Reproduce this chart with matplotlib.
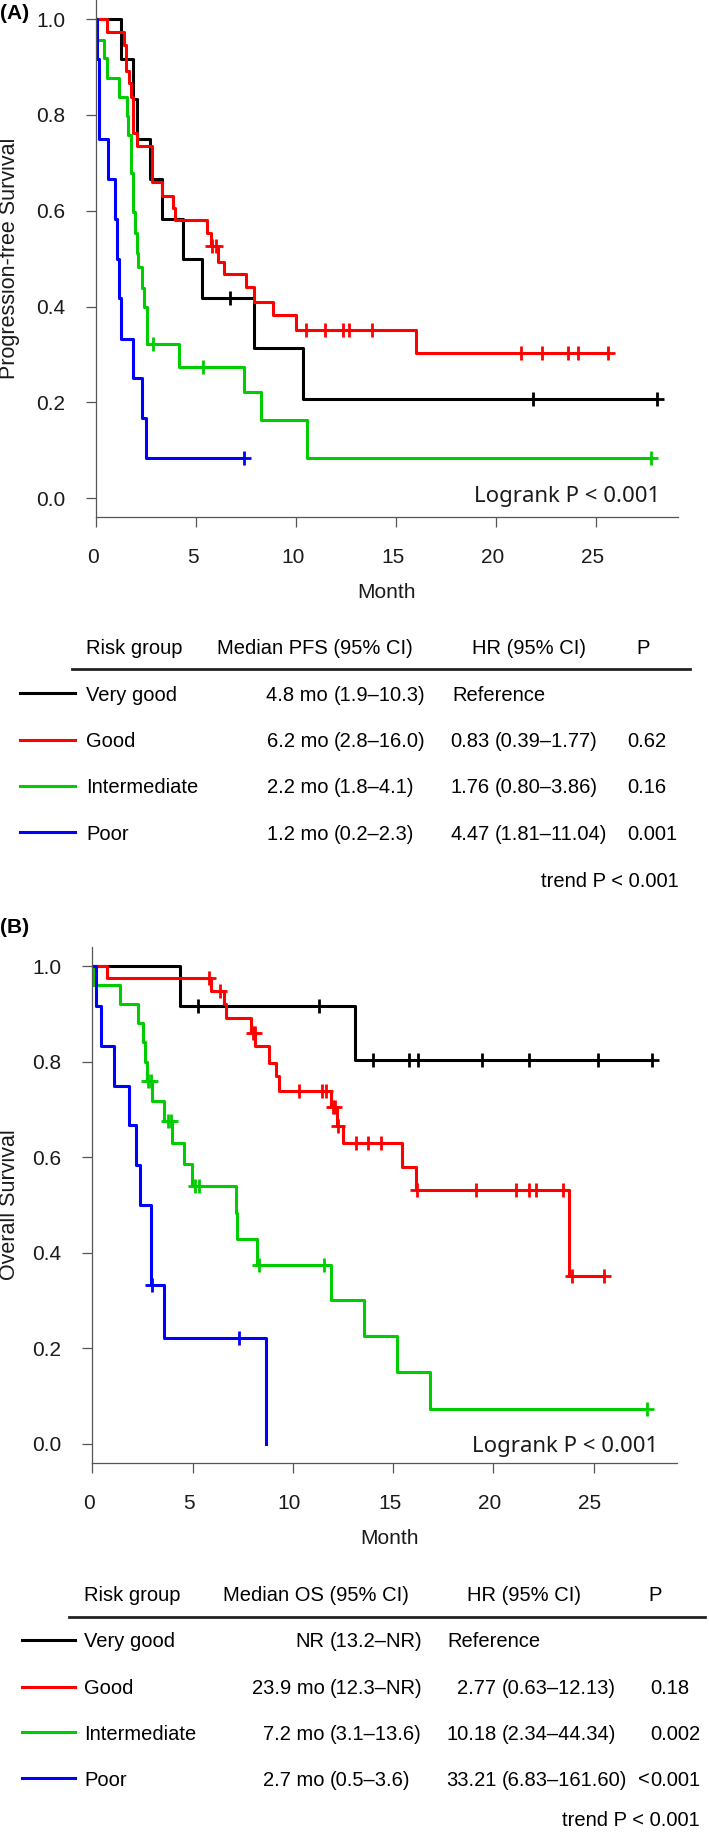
import numpy as np
import matplotlib
matplotlib.use('Agg')
import matplotlib.pyplot as plt
import matplotlib.transforms as mtransforms
from matplotlib.lines import Line2D

plt.rcParams['font.family'] = ['Liberation Sans', 'DejaVu Sans']

# ---- data ----
groups = ['Very good', 'Good', 'Intermediate', 'Poor']
colors = ['black', '#FF0000', '#00CD00', '#0000FF']

# (A) progression-free survival: event times, survival after each event, censor times
pfs_vg_t = [1.23, 1.87, 2.03, 2.70, 3.28, 4.37, 5.32, 7.90, 10.33]
pfs_vg_s = [0.917, 0.833, 0.750, 0.667, 0.583, 0.500, 0.417, 0.313, 0.208]
pfs_vg_c = [6.70, 21.83, 28.03]

pfs_good_t = [0.57, 1.40, 1.50, 1.67, 1.75, 1.87, 2.03, 2.78, 3.28, 3.87, 3.95, 5.57, 5.73,
              6.12, 6.40, 7.50, 7.90, 8.87, 10.00, 16.00]
pfs_good_s = [0.973, 0.946, 0.892, 0.866, 0.838, 0.762, 0.736, 0.661, 0.630, 0.605, 0.581,
              0.553, 0.526, 0.494, 0.468, 0.441, 0.410, 0.382, 0.351, 0.302]
pfs_good_c = [5.80, 6.00, 10.50, 11.45, 12.35, 12.65, 13.80, 21.25, 22.27, 23.60, 24.08, 25.58]

pfs_int_t = [0.03, 0.42, 0.53, 1.15, 1.53, 1.58, 1.75, 1.87, 1.95, 2.03, 2.12, 2.28, 2.40,
             2.53, 4.17, 7.40, 8.25, 10.53]
pfs_int_s = [0.957, 0.918, 0.877, 0.837, 0.798, 0.758, 0.678, 0.598, 0.553, 0.511, 0.483,
             0.438, 0.400, 0.322, 0.274, 0.221, 0.164, 0.083]
pfs_int_c = [2.83, 5.33, 27.73]

pfs_poor_t = [0.05, 0.17, 0.62, 0.95, 1.07, 1.17, 1.23, 1.87, 2.28, 2.50]
pfs_poor_s = [0.917, 0.750, 0.667, 0.583, 0.500, 0.417, 0.333, 0.250, 0.167, 0.083]
pfs_poor_c = [7.42]

# (B) overall survival
os_vg_t = [4.36, 13.12]
os_vg_s = [0.917, 0.803]
os_vg_c = [5.27, 11.30, 13.98, 15.80, 16.27, 19.42, 21.78, 25.22, 27.90]

os_good_t = [0.71, 5.90, 6.55, 6.68, 7.93, 8.14, 8.80, 9.14, 9.30, 11.90, 12.19, 12.49,
             15.47, 16.14, 23.80]
os_good_s = [0.975, 0.948, 0.920, 0.891, 0.860, 0.833, 0.798, 0.769, 0.739, 0.704, 0.665,
             0.629, 0.579, 0.532, 0.352]
os_good_c = [5.82, 6.35, 8.00, 8.10, 10.33, 11.46, 11.66, 12.00, 12.10, 12.27, 13.15, 13.73,
             14.40, 16.20, 19.15, 21.14, 21.78, 22.14, 23.47, 23.93, 25.50]

os_int_t = [0.05, 1.38, 2.29, 2.54, 2.65, 2.72, 3.00, 3.58, 3.98, 4.56, 4.99, 7.15, 7.23,
            8.23, 11.90, 13.53, 15.19, 16.85]
os_int_s = [0.961, 0.920, 0.880, 0.840, 0.800, 0.760, 0.718, 0.676, 0.629, 0.585, 0.539,
            0.484, 0.429, 0.375, 0.302, 0.225, 0.150, 0.073]
os_int_c = [2.78, 2.95, 3.78, 3.95, 5.10, 5.30, 8.30, 11.58, 27.66]

os_poor_t = [0.18, 0.43, 1.09, 1.82, 2.17, 2.37, 2.92, 2.95, 3.58, 8.68]
os_poor_s = [0.917, 0.833, 0.750, 0.667, 0.583, 0.500, 0.417, 0.333, 0.222, 0.0]
os_poor_c = [2.98, 7.30]

# tables
pfs_median = ['4.8 mo (1.9–10.3)', '6.2 mo (2.8–16.0)', '2.2 mo (1.8–4.1)', '1.2 mo (0.2–2.3)']
pfs_hr = ['Reference', '0.83 (0.39–1.77)', '1.76 (0.80–3.86)', '4.47 (1.81–11.04)']
pfs_p = ['', '0.62', '0.16', '0.001']
os_median = ['NR (13.2–NR)', '23.9 mo (12.3–NR)', '7.2 mo (3.1–13.6)', '2.7 mo (0.5–3.6)']
os_hr = ['Reference', '2.77 (0.63–12.13)', '10.18 (2.34–44.34)', '33.21 (6.83–161.60)']
os_p = ['', '0.18', '0.002', '<0.001']

x_ticks = [0, 5, 10, 15, 20, 25]
y_ticks = [0.0, 0.2, 0.4, 0.6, 0.8, 1.0]

# ---- figure ----
W, H = 709, 1832
fig = plt.figure(figsize=(W / 100, H / 100), dpi=100)


def fx(px):
    return px / W


def fy(py):
    return 1 - py / H


def ctext(px, py, s, ha='left', fs=14.5, **kw):
    # py is the vertical centre of the capitals
    fig.text(fx(px), fy(py + 0.358 * fs * 100 / 72), s, ha=ha, va='baseline',
             fontsize=fs, **kw)


def km_panel(left, right, top, bottom, x0, xmax, curves):
    ax = fig.add_axes([fx(left), fy(bottom), (right - left) / W, (bottom - top) / H])
    for (t, s, c), col in zip(curves, colors):
        end = max(t + c)
        xs = [0] + t + [end]
        ys = [1.0] + s + [s[-1]]
        ax.step(xs, ys, where='post', color=col, lw=2.2)
        idx = np.searchsorted(t, c, side='right')
        cy = [1.0 if i == 0 else s[i - 1] for i in idx]
        ax.plot(c, cy, ls='none', marker='+', ms=9.5, mew=2, color=col, clip_on=False)
    ax.set_xlim(0, xmax)
    ax.set_ylim(-0.04, 1.04)
    ax.set_xticks(x_ticks)
    ax.set_yticks(y_ticks)
    ax.set_yticklabels(['%.1f' % v for v in y_ticks])
    for side in ['top', 'right']:
        ax.spines[side].set_visible(False)
    for side in ['left', 'bottom']:
        ax.spines[side].set_color('#555555')
        ax.spines[side].set_linewidth(0.9)
    ax.tick_params(direction='out', length=7.2, width=0.9, color='#555555', pad=15,
                   labelsize=15, labelcolor='#1a1a1a')
    off = mtransforms.ScaledTranslation(-3.5 / 100, 0, fig.dpi_scale_trans)
    for lbl in ax.get_xticklabels():
        lbl.set_transform(lbl.get_transform() + off)
    return ax


def table(header_y, line_y, line_x0, line_x1, row_y, trend_y, trend_x, cols, median, hr, pv,
          head_txt, dashed):
    ctext(cols['risk'], header_y, 'Risk group')
    ctext(cols['med_c'], header_y, head_txt, ha='center')
    ctext(cols['hr_c'], header_y, 'HR (95% CI)', ha='center')
    ctext(cols['p_c'], header_y, 'P', ha='center')
    fig.add_artist(Line2D([fx(line_x0), fx(line_x1)], [fy(line_y)] * 2, color='#222222', lw=2))
    for i, ry in enumerate(row_y):
        col = colors[i]
        if dashed:
            fig.add_artist(Line2D([fx(21.7), fx(68.3)], [fy(ry)] * 2, color=col, lw=2.2))
            fig.add_artist(Line2D([fx(71), fx(75)], [fy(ry)] * 2, color=col, lw=2.2))
        else:
            fig.add_artist(Line2D([fx(20.3), fx(74.6)], [fy(ry)] * 2, color=col, lw=2.2))
        ctext(cols['risk'], ry, groups[i])
        lead, rest = median[i].split(' (')
        ctext(cols['med_p'] - 5.5, ry, lead, ha='right')
        ctext(cols['med_p'], ry, '(' + rest)
        if hr[i] == 'Reference':
            ctext(cols['ref'], ry, hr[i])
        else:
            lead, rest = hr[i].split(' (')
            ctext(cols['hr_p'] - 5.5, ry, lead, ha='right')
            ctext(cols['hr_p'], ry, '(' + rest)
        if pv[i].startswith('<'):
            ctext(cols['p'], ry, '<', ha='right')
            ctext(cols['p'], ry, pv[i][1:])
        elif pv[i]:
            ctext(cols['p'], ry, pv[i])
    ctext(trend_x, trend_y, 'trend P < 0.001', ha='right')


# panel A
km_panel(96, 678.3, 0, 517.3, 0, 29.1,
         [(pfs_vg_t, pfs_vg_s, pfs_vg_c), (pfs_good_t, pfs_good_s, pfs_good_c),
          (pfs_int_t, pfs_int_s, pfs_int_c), (pfs_poor_t, pfs_poor_s, pfs_poor_c)])
fig.text(fx(0), fy(13.5), '(A)', fontsize=15, fontweight='bold', ha='left', va='center')
fig.text(fx(10), fy(258.6), 'Progression-free Survival', rotation=90, ha='center',
         va='center', fontsize=15.5, color='#1a1a1a')
ctext(386.6, 590.5, 'Month', ha='center', fs=15, color='#1a1a1a')
ctext(660.7, 493.7, 'Logrank P < 0.001', ha='right', fs=16,
      family=['Noto Sans', 'DejaVu Sans'], color='#1a1a1a')

table(646.5, 669.3, 72.3, 689.6, [693.3, 740, 785.7, 832.3], 880, 678.3,
      {'risk': 86, 'med_c': 314.8, 'med_p': 333.7, 'ref': 452, 'hr_c': 528.6, 'hr_p': 495,
       'p_c': 643.5, 'p': 627.6},
      pfs_median, pfs_hr, pfs_p, 'Median PFS (95% CI)', False)

# panel B
km_panel(92.3, 676.7, 946.9, 1463.1, 0, 29.15,
         [(os_vg_t, os_vg_s, os_vg_c), (os_good_t, os_good_s, os_good_c),
          (os_int_t, os_int_s, os_int_c), (os_poor_t, os_poor_s, os_poor_c)])
fig.text(fx(0), fy(928), '(B)', fontsize=15, fontweight='bold', ha='left', va='center')
fig.text(fx(10), fy(1205), 'Overall Survival', rotation=90, ha='center',
         va='center', fontsize=15.5, color='#1a1a1a')
ctext(389, 1536.7, 'Month', ha='center', fs=15, color='#1a1a1a')
ctext(658.3, 1443.7, 'Logrank P < 0.001', ha='right', fs=16,
      family=['Noto Sans', 'DejaVu Sans'], color='#1a1a1a')

table(1593.3, 1616.7, 69, 705, [1640, 1686.7, 1732.3, 1778.3], 1819, 700,
      {'risk': 84, 'med_c': 316, 'med_p': 330, 'ref': 447.7, 'hr_c': 523.7, 'hr_p': 502,
       'p_c': 654.8, 'p': 650},
      os_median, os_hr, os_p, 'Median OS (95% CI)', True)

fig.savefig('out.png', dpi=100)
